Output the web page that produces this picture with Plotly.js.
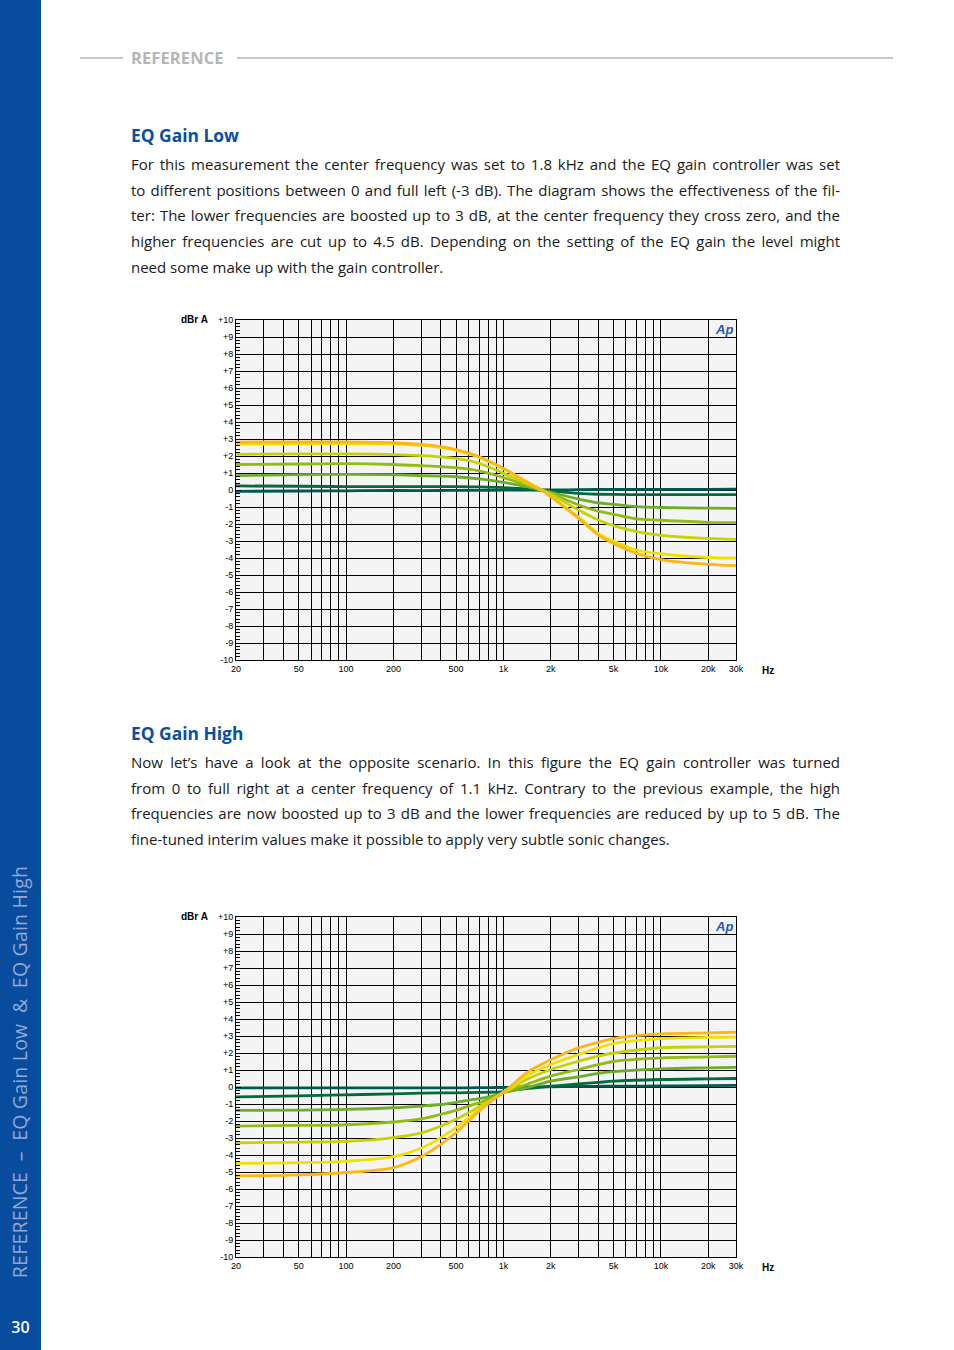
<!DOCTYPE html>
<html>
<head>
<meta charset="utf-8">
<script src="https://cdn.plot.ly/plotly-3.0.1.min.js"></script>
<style>
  html, body { margin:0; padding:0; background:#fff; }
  #page { position:relative; width:954px; height:1350px; overflow:hidden; background:#fff; font-family:"Open Sans", "Noto Sans", sans-serif; }
  #sidebar { position:absolute; left:0; top:0; width:41px; height:1350px; background:#084c9e; }
  #sidetext { position:absolute; left:-200px; top:1060px; width:440px; height:24px; line-height:24px; text-align:center;
              color:#93a8d2; font-size:19.5px; transform:rotate(-90deg); transform-origin:50% 50%; white-space:nowrap; letter-spacing:0.2px; }
  #pagenum { position:absolute; left:0; top:1316px; width:41px; text-align:center; color:#fff; font-size:16px; font-weight:600; }
  .hline { position:absolute; height:2px; background:#c8c8c8; top:57px; }
  #hdr { position:absolute; left:131px; top:46px; color:#b5b5b5; font-size:16.5px; font-weight:700; line-height:24px; letter-spacing:0.1px; }
  .title { position:absolute; left:131px; color:#0a4f9f; font-size:17.4px; font-weight:700; line-height:26px; }
  .para { position:absolute; left:131px; width:709px; color:#1a1a1a; font-size:15px; line-height:25.7px; }
  .para div { text-align:justify; text-align-last:justify; }
  .para div.last { text-align:left; text-align-last:left; }
  .chart { position:absolute; left:160px; width:640px; height:390px; }
</style>
</head>
<body>
<div id="page">
  <div id="sidebar"></div>
  <div id="sidetext">REFERENCE &nbsp;–&nbsp; EQ Gain Low &nbsp;&amp;&nbsp; EQ Gain High</div>
  <div id="pagenum">30</div>

  <div class="hline" style="left:80px; width:43px;"></div>
  <div id="hdr">REFERENCE</div>
  <div class="hline" style="left:237px; width:656px;"></div>

  <div class="title" style="top:122px;">EQ Gain Low</div>
  <div class="para" style="top:152px;">
    <div>For this measurement the center frequency was set to 1.8 kHz and the EQ gain controller was set</div>
    <div>to different positions between 0 and full left (-3 dB). The diagram shows the effectiveness of the fil-</div>
    <div>ter: The lower frequencies are boosted up to 3 dB, at the center frequency they cross zero, and the</div>
    <div>higher frequencies are cut up to 4.5 dB. Depending on the setting of the EQ gain the level might</div>
    <div class="last">need some make up with the gain controller.</div>
  </div>
  <div id="chart1" class="chart" style="top:300px;"></div>

  <div class="title" style="top:720px;">EQ Gain High</div>
  <div class="para" style="top:750px;">
    <div>Now let’s have a look at the opposite scenario. In this figure the EQ gain controller was turned</div>
    <div>from 0 to full right at a center frequency of 1.1 kHz. Contrary to the previous example, the high</div>
    <div>frequencies are now boosted up to 3 dB and the lower frequencies are reduced by up to 5 dB. The</div>
    <div class="last">fine-tuned interim values make it possible to apply very subtle sonic changes.</div>
  </div>
  <div id="chart2" class="chart" style="top:897px;"></div>
</div>

<script>
// ---- axis ticks ----
var xGridVals = [20,30,40,50,60,70,80,90,100,200,300,400,500,600,700,800,900,1000,2000,3000,4000,5000,6000,7000,8000,9000,10000,20000,30000];
var xGridText = ['20','','','50','','','','','100','200','','','500','','','','','1k','2k','','','5k','','','','','10k','20k','30k'];
var yTickVals = [10,9,8,7,6,5,4,3,2,1,0,-1,-2,-3,-4,-5,-6,-7,-8,-9,-10];
var yTickText = ['+10','+9','+8','+7','+6','+5','+4','+3','+2','+1','0','-1','-2','-3','-4','-5','-6','-7','-8','-9','-10'];

// ---- colours for the 7 control positions (0 ... full) ----
var curveColors = ['#00594f', '#006b3b', '#6cae2a', '#93bb14', '#c6d300', '#f1e000', '#fdb714'];

// ---- EQ Gain Low (center 1.8 kHz, 0 ... full left) ----
var freqLow = [20, 50, 100, 200, 300, 400, 500, 700, 1000, 1400, 1800, 2000, 3000, 4000, 5000, 7000, 10000, 20000, 30000];
var low0 = [-0.08,-0.06,-0.05,-0.03,-0.04,-0.03,-0.02,-0.02,-0.01,0.00,0.00,0.00,0.02,0.03,0.03,0.04,0.04,0.04,0.05];
var low1 = [0.24,0.22,0.20,0.20,0.20,0.20,0.20,0.18,0.14,0.07,-0.02,-0.06,-0.20,-0.25,-0.26,-0.27,-0.27,-0.27,-0.27];
var low2 = [0.85,0.90,0.92,0.90,0.85,0.82,0.78,0.65,0.45,0.20,-0.04,-0.14,-0.53,-0.75,-0.84,-0.98,-1.03,-1.07,-1.08];
var low3 = [1.50,1.53,1.55,1.50,1.43,1.37,1.31,1.12,0.73,0.29,-0.05,-0.20,-0.88,-1.24,-1.43,-1.70,-1.78,-1.90,-1.92];
var low4 = [2.10,2.12,2.12,2.08,2.02,1.95,1.86,1.57,0.98,0.39,-0.06,-0.25,-1.18,-1.76,-2.10,-2.45,-2.67,-2.85,-2.90];
var low5 = [2.70,2.72,2.73,2.70,2.62,2.50,2.33,1.92,1.25,0.48,-0.07,-0.37,-1.60,-2.55,-3.00,-3.53,-3.75,-3.97,-4.00];
var low6 = [2.82,2.83,2.83,2.78,2.68,2.55,2.38,1.96,1.27,0.49,-0.08,-0.39,-1.67,-2.65,-3.14,-3.73,-4.10,-4.38,-4.45];

// ---- EQ Gain High (center 1.1 kHz, 0 ... full right) ----
var freqHigh = [20, 50, 100, 200, 300, 400, 500, 600, 700, 800, 900, 1000, 1100, 1400, 2000, 3000, 4000, 5000, 10000, 20000, 30000];
var high0 = [-0.05,-0.05,-0.05,-0.05,-0.05,-0.05,-0.05,-0.05,-0.04,-0.04,-0.03,-0.03,-0.02,0.00,0.01,0.03,0.04,0.05,0.06,0.08,0.09];
var high1 = [-0.58,-0.52,-0.46,-0.40,-0.36,-0.35,-0.34,-0.33,-0.32,-0.31,-0.30,-0.28,-0.22,-0.10,0.05,0.18,0.27,0.34,0.44,0.48,0.50];
var high2 = [-1.38,-1.36,-1.32,-1.22,-1.12,-1.03,-0.90,-0.78,-0.68,-0.58,-0.46,-0.33,-0.24,-0.05,0.34,0.60,0.80,0.90,1.07,1.13,1.16];
var high3 = [-2.30,-2.26,-2.22,-2.06,-1.88,-1.61,-1.38,-1.12,-0.93,-0.73,-0.53,-0.33,-0.18,0.15,0.64,1.03,1.32,1.50,1.71,1.77,1.81];
var high4 = [-3.28,-3.24,-3.20,-2.98,-2.70,-2.30,-1.90,-1.52,-1.16,-0.88,-0.60,-0.33,-0.12,0.44,1.03,1.51,1.81,2.00,2.31,2.36,2.39];
var high5 = [-4.49,-4.45,-4.37,-4.10,-3.60,-2.98,-2.39,-1.81,-1.32,-0.93,-0.60,-0.32,-0.06,0.64,1.32,1.91,2.30,2.55,2.84,2.92,2.94];
var high6 = [-5.23,-5.17,-5.03,-4.74,-4.10,-3.37,-2.69,-2.00,-1.42,-0.98,-0.62,-0.30,0.00,0.83,1.60,2.30,2.62,2.85,3.12,3.18,3.22];

function makeChart(id, freqs, seriesList) {
  var traces = seriesList.map(function(ys, i) {
    return { x: freqs, y: ys, type: 'scatter', mode: 'lines',
             line: { color: curveColors[i], width: 2.8, shape: 'spline', smoothing: 1 },
             hoverinfo: 'skip' };
  });
  var tickFont = { family: 'Liberation Sans, Arial, sans-serif', size: 9, color: '#000' };
  var layout = {
    width: 640, height: 390,
    margin: { l: 76, r: 64, t: 20, b: 30 },
    paper_bgcolor: 'rgba(0,0,0,0)', plot_bgcolor: '#f4f4f4',
    showlegend: false,
    xaxis: { type: 'log', range: [Math.log10(20), Math.log10(30000)],
             tickmode: 'array', tickvals: xGridVals, ticktext: xGridText,
             showgrid: true, gridcolor: '#000', gridwidth: 1,
             showline: true, linecolor: '#000', linewidth: 1, mirror: true,
             ticks: '', tickfont: tickFont, zeroline: false, fixedrange: true },
    yaxis: { range: [-10, 10], tickmode: 'array', tickvals: yTickVals, ticktext: yTickText,
             showgrid: true, gridcolor: '#000', gridwidth: 1,
             showline: true, linecolor: '#000', linewidth: 1, mirror: true,
             ticks: 'inside', ticklen: 5, tickcolor: '#000', tickwidth: 1,
             minor: { tickmode: 'linear', tick0: 0, dtick: 0.2, ticks: 'inside', ticklen: 4, tickcolor: '#000', tickwidth: 1, showgrid: false },
             tickfont: tickFont, zeroline: false, fixedrange: true },
    annotations: [
      { xref: 'paper', yref: 'paper', x: 0, y: 1, xanchor: 'right', yanchor: 'middle', xshift: -26, yshift: 1,
        text: '<b>dBr A</b>', showarrow: false, font: { family: 'Liberation Sans, Arial, sans-serif', size: 10, color: '#000' } },
      { xref: 'paper', yref: 'paper', x: 1, y: 0, xanchor: 'left', yanchor: 'middle', xshift: 24, yshift: -10,
        text: '<b>Hz</b>', showarrow: false, font: { family: 'Liberation Sans, Arial, sans-serif', size: 10, color: '#000' } },
      { xref: 'paper', yref: 'paper', x: 1, y: 1, xanchor: 'right', yanchor: 'top', xshift: -1, yshift: 0,
        text: '<b><i>Ap</i></b>', showarrow: false, font: { family: 'Liberation Sans, Arial, sans-serif', size: 13, color: '#2456b6' } }
    ]
  };
  Plotly.newPlot(id, traces, layout, { staticPlot: true, displayModeBar: false });
}

makeChart('chart1', freqLow, [low0, low1, low2, low3, low4, low5, low6]);
makeChart('chart2', freqHigh, [high0, high1, high2, high3, high4, high5, high6]);
</script>
</body>
</html>
